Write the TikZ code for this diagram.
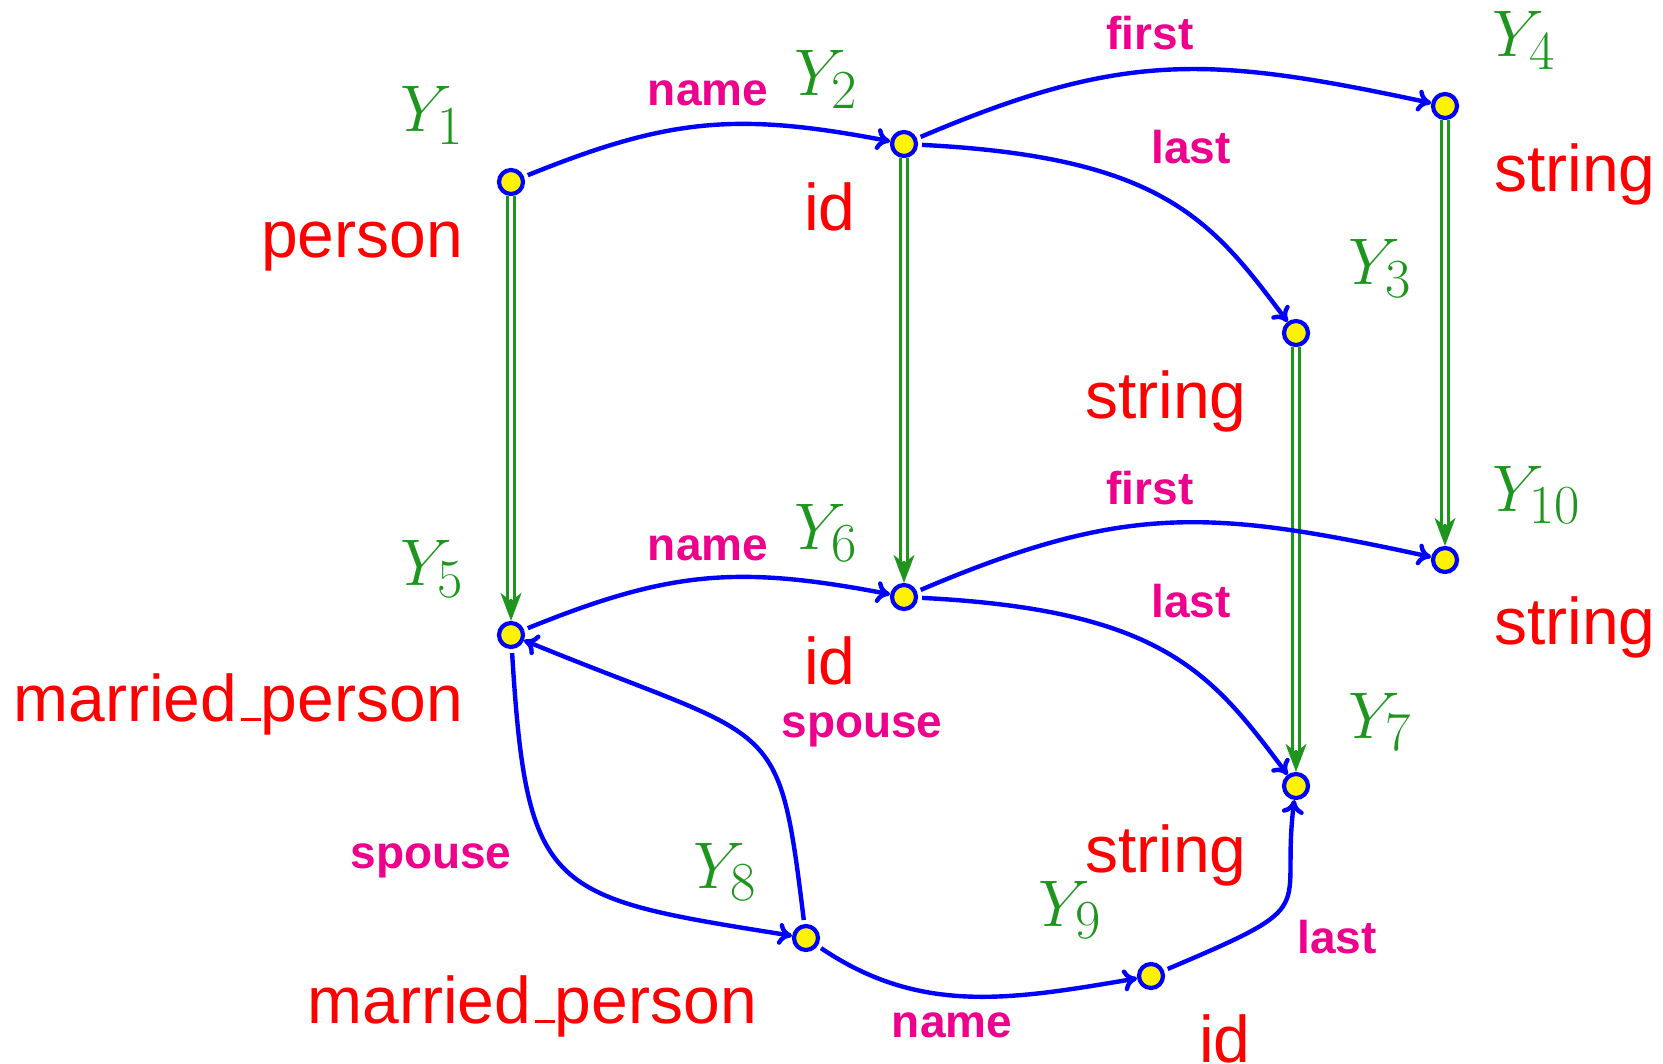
\documentclass[tikz,border=0pt]{standalone}
\usepackage[no-math]{fontspec}
\usepackage{graphicx}
\newfontfamily\labfont{Liberation Sans}
\usetikzlibrary{arrows.meta}
\definecolor{ygreen}{RGB}{30,150,30}
\definecolor{emag}{RGB}{236,0,140}
\definecolor{vyellow}{RGB}{255,242,0}
\newcommand{\usc}{\kern.06em\vbox{\hrule width.3em height 3pt}}
\newcommand{\yv}[1]{\scalebox{2.653}{\Huge$Y_{#1}$}}
\tikzset{
  vert/.style={circle,fill=vyellow,draw=blue,line width=4.2pt,minimum size=24pt,inner sep=0pt},
  rel/.style={draw=blue,line width=4.4pt,shorten <=4pt,-{To[length=14pt,width=22pt]}},
  gthin/.style={draw=ygreen,line width=2pt,-{Stealth[length=28pt,width=21pt,inset=8pt]}},
  gdouble/.style={draw=ygreen,line width=2.6pt,double=white,double distance=4pt,shorten >=22pt},
  rl/.style={text=red,inner sep=0pt,font=\labfont\fontsize{66}{72}\selectfont},
  el/.style={text=emag,inner sep=0pt,anchor=base,font=\labfont\bfseries\fontsize{46}{50}\selectfont},
  yl/.style={text=ygreen,inner sep=0pt,anchor=base west}
}
\begin{document}
\begin{tikzpicture}[x=1pt,y=-1pt]
\useasboundingbox (0,0) rectangle (1663,1064);
% vertices
\node[vert] (y1) at (511,182) {};
\node[vert] (y2) at (904,144) {};
\node[vert] (y3) at (1296,333) {};
\node[vert] (y4) at (1445,106) {};
\node[vert] (y5) at (511,635) {};
\node[vert] (y6) at (904,597) {};
\node[vert] (y7) at (1296,786) {};
\node[vert] (y8) at (806,938) {};
\node[vert] (y9) at (1151,976) {};
\node[vert] (y10) at (1445,560) {};
% green subsumption arrows
\foreach \a/\b in {y1/y5,y2/y6,y3/y7,y4/y10}{
  \draw[gthin] (\a) -- (\b);
  \draw[gdouble] (\a) -- (\b);
}
% blue relation edges
\draw[rel] (y1) .. controls (669,118) and (737,112) .. (y2);
\draw[rel] (y2) .. controls (1125,50) and (1210,56) .. (y4);
\draw[rel] (y2) .. controls (1164,157) and (1212,221) .. (y3);
\draw[rel] (y5) .. controls (669,571) and (737,565) .. (y6);
\draw[rel] (y6) .. controls (1125,503) and (1210,509) .. (y10);
\draw[rel] (y6) .. controls (1164,610) and (1212,674) .. (y7);
\draw[rel] (y5) .. controls (527,895) and (549,897) .. (y8);
\draw[rel] (y8) .. controls (778,710) and (779,745) .. (y5);
\draw[rel] (y8) .. controls (920,1015) and (1010,1000) .. (y9);
\draw[rel] (y9) .. controls (1326,902) and (1280,915) .. (y7);
% edge labels
\node[el] (e12) at (708,106) {name};
\node[el] (e24) at (1150,50) {first};
\node[el] (e23) at (1191,164) {last};
\node[el] (e56) at (708,560) {name};
\node[el] (e610) at (1150,504) {first};
\node[el] (e67) at (1191,617) {last};
\node[el] (e85) at (862,737) {spouse};
\node[el] (e58) at (431,868) {spouse};
\node[el] (e89) at (952,1037) {name};
\node[el] (e97) at (1337,953) {last};
% type labels
\node[rl,anchor=base east] (t1) at (463,258) {person};
\node[rl,anchor=base west] (t2) at (804,231) {id};
\node[rl,anchor=base west] (t4) at (1494,192) {string};
\node[rl,anchor=base west] (t3) at (1085,419) {string};
\node[rl,anchor=base west] (t10) at (1494,644) {string};
\node[rl,anchor=base west] (t6) at (804,684) {id};
\node[rl,anchor=base east] (t5) at (463,721) {married\usc person};
\node[rl,anchor=base west] (t7) at (1085,872) {string};
\node[rl,anchor=base east] (t8) at (757,1023) {married\usc person};
\node[rl,anchor=base west] (t9) at (1199,1062) {id};
% variable labels
\node[yl] (n1) at (400,132) {\yv{1}};
\node[yl] (n2) at (794,96) {\yv{2}};
\node[yl] (n3) at (1348,285) {\yv{3}};
\node[yl] (n4) at (1492,57) {\yv{4}};
\node[yl] (n5) at (400,585) {\yv{5}};
\node[yl] (n6) at (794,549) {\yv{6}};
\node[yl] (n7) at (1348,738) {\yv{7}};
\node[yl] (n8) at (693,888) {\yv{8}};
\node[yl] (n9) at (1038,926) {\yv{9}};
\node[yl] (n10) at (1492,511) {\yv{10}};
\end{tikzpicture}
\end{document}
